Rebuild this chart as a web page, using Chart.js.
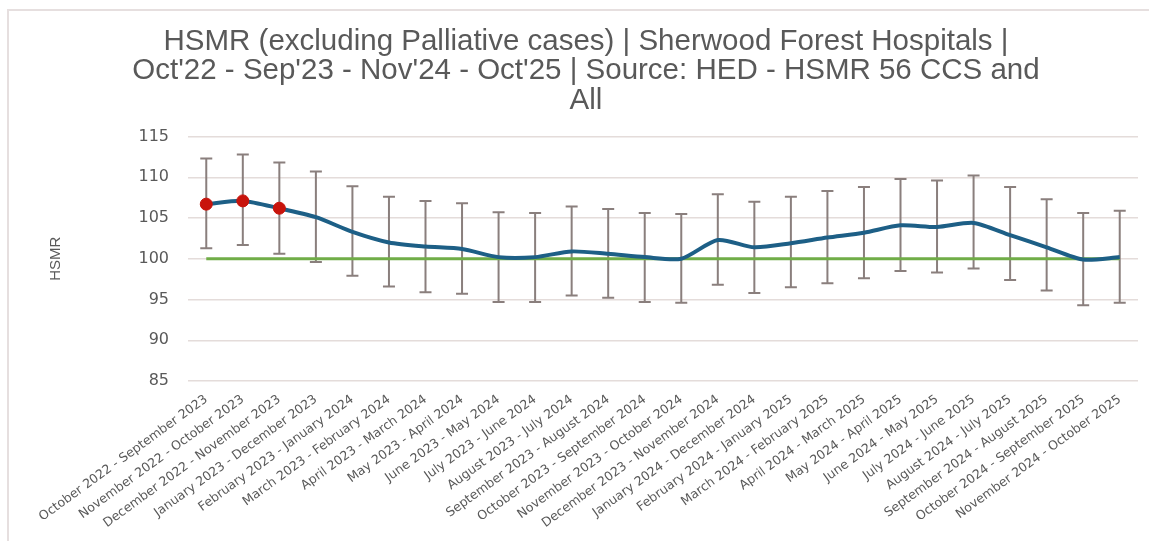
<!DOCTYPE html>
<html>
<head>
<meta charset="utf-8">
<script src="https://cdn.jsdelivr.net/npm/chart.js@4.4.1/dist/chart.umd.min.js"></script>
<style>
html,body{margin:0;padding:0;background:#ffffff;}
#wrap{width:1149px;height:541px;position:relative;}
</style>
</head>
<body>
<div id="wrap"><canvas id="c" width="1149" height="541"></canvas></div>
<script>
const categories = [
  "October 2022 - September 2023",
  "November 2022 - October 2023",
  "December 2022 - November 2023",
  "January 2023 - December 2023",
  "February 2023 - January 2024",
  "March 2023 - February 2024",
  "April 2023 - March 2024",
  "May 2023 - April 2024",
  "June 2023 - May 2024",
  "July 2023 - June 2024",
  "August 2023 - July 2024",
  "September 2023 - August 2024",
  "October 2023 - September 2024",
  "November 2023 - October 2024",
  "December 2023 - November 2024",
  "January 2024 - December 2024",
  "February 2024 - January 2025",
  "March 2024 - February 2025",
  "April 2024 - March 2025",
  "May 2024 - April 2025",
  "June 2024 - May 2025",
  "July 2024 - June 2025",
  "August 2024 - July 2025",
  "September 2024 - August 2025",
  "October 2024 - September 2025",
  "November 2024 - October 2025"
];
const hsmr  = [106.7,107.1,106.2,105.1,103.3,102.0,101.5,101.2,100.2,100.2,100.9,100.6,100.2,100.0,102.3,101.4,101.9,102.6,103.2,104.1,103.9,104.4,102.9,101.4,99.9,100.2];
const upper = [112.3,112.8,111.8,110.7,108.9,107.6,107.1,106.8,105.7,105.6,106.4,106.1,105.6,105.5,107.9,107.0,107.6,108.3,108.8,109.8,109.6,110.2,108.8,107.3,105.6,105.9];
const lower = [101.3,101.7,100.6,99.6,97.9,96.6,95.9,95.7,94.7,94.7,95.5,95.2,94.7,94.6,96.8,95.8,96.5,97.0,97.6,98.5,98.3,98.8,97.4,96.1,94.3,94.6];
const benchmark = [100,100,100,100,100,100,100,100,100,100,100,100,100,100,100,100,100,100,100,100,100,100,100,100,100,100];
const titleLines = [
  "HSMR (excluding Palliative cases) | Sherwood Forest Hospitals |",
  "Oct'22 - Sep'23 - Nov'24 - Oct'25 | Source: HED - HSMR 56 CCS and",
  "All"
];
const yTicks = [85,90,95,100,105,110,115];

const textColor = '#595959';

const frame = {
  id: 'frame',
  beforeDraw(chart) {
    const ctx = chart.ctx;
    ctx.save();
    ctx.fillStyle = '#ffffff';
    ctx.fillRect(0, 0, chart.width, chart.height);
    ctx.strokeStyle = '#e6dfdf';
    ctx.lineWidth = 2;
    ctx.beginPath();
    ctx.moveTo(8, chart.height);
    ctx.lineTo(8, 10);
    ctx.lineTo(chart.width, 10);
    ctx.stroke();
    ctx.restore();
  }
};

const errorBars = {
  id: 'errorBars',
  beforeDatasetsDraw(chart) {
    const ctx = chart.ctx;
    const xs = chart.scales.x, ys = chart.scales.y;
    ctx.save();
    ctx.strokeStyle = '#8a7f7d';
    ctx.lineWidth = 2;
    const cap = 6;
    for (let i = 0; i < categories.length; i++) {
      const x = xs.getPixelForValue(i);
      const yt = ys.getPixelForValue(upper[i]);
      const yb = ys.getPixelForValue(lower[i]);
      ctx.beginPath();
      ctx.moveTo(x, yt); ctx.lineTo(x, yb);
      ctx.moveTo(x - cap, yt); ctx.lineTo(x + cap, yt);
      ctx.moveTo(x - cap, yb); ctx.lineTo(x + cap, yb);
      ctx.stroke();
    }
    ctx.restore();
  }
};

new Chart(document.getElementById('c'), {
  type: 'line',
  data: {
    labels: categories,
    datasets: [
      {
        label: 'HSMR',
        data: hsmr,
        borderColor: '#1d5f86',
        borderWidth: 4,
        tension: 0.25,
        pointRadius: ctx => lower[ctx.dataIndex] > 100 ? 6 : 0,
        pointBackgroundColor: '#c8140c',
        pointBorderColor: '#c8140c',
        pointBorderWidth: 1,
        order: 0
      },
      {
        label: 'Benchmark',
        data: benchmark,
        borderColor: '#70ad47',
        borderWidth: 3,
        pointRadius: 0,
        tension: 0,
        order: 1
      }
    ]
  },
  options: {
    responsive: false,
    devicePixelRatio: 1,
    animation: false,
    layout: { padding: { left: 34, right: 11, top: 0, bottom: 0 } },
    plugins: {
      legend: { display: false },
      tooltip: { enabled: false },
      title: {
        display: true,
        text: titleLines,
        color: textColor,
        font: { family: "'Liberation Sans', sans-serif", size: 29.5, weight: 'normal', lineHeight: 1.0 },
        padding: { top: 27, bottom: 21 }
      }
    },
    scales: {
      x: {
        offset: true,
        grid: { display: false, drawTicks: false },
        border: { display: false },
        ticks: {
          color: textColor,
          font: { family: "'DejaVu Sans', sans-serif", size: 12.6 },
          minRotation: 36,
          maxRotation: 36,
          autoSkip: false,
          padding: 11,
          labelOffset: 0
        },
        afterFit(scale) { scale.height = 160; }
      },
      y: {
        min: 85,
        max: 115,
        afterBuildTicks(scale) { scale.ticks = yTicks.map(v => ({ value: v })); },
        grid: { color: '#e4dcda', lineWidth: 1.5, drawTicks: false },
        border: { display: false },
        ticks: {
          color: textColor,
          font: { family: "'DejaVu Sans', sans-serif", size: 16 },
          padding: 19
        },
        title: {
          display: true,
          text: 'HSMR',
          color: textColor,
          font: { family: "'Liberation Sans', sans-serif", size: 15 },
          padding: { top: 13, bottom: 0 }
        },
        afterFit(scale) { scale.width = 154; }
      }
    }
  },
  plugins: [frame, errorBars]
});
</script>
</body>
</html>
